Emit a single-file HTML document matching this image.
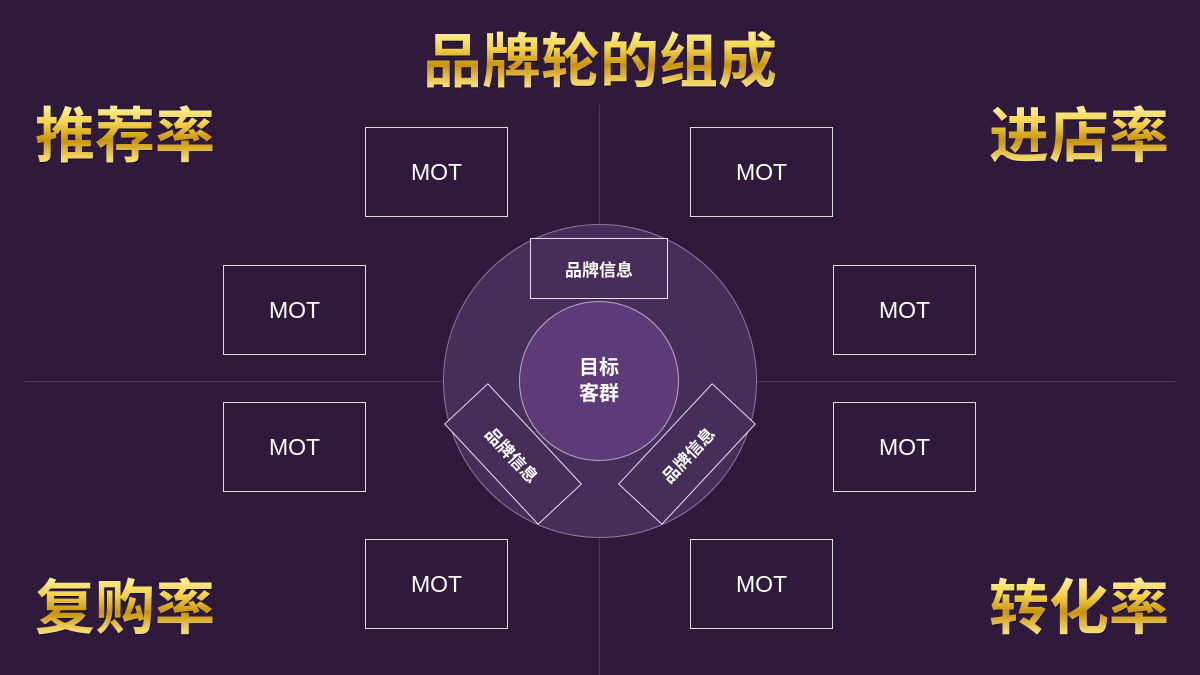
<!DOCTYPE html>
<html><head><meta charset="utf-8"><style>
*{margin:0;padding:0;box-sizing:border-box}
body{width:1200px;height:675px;background:#2f1a3c;position:relative;overflow:hidden;font-family:"Liberation Sans","Noto Sans CJK SC",sans-serif}
.g{position:absolute;font-weight:bold;white-space:nowrap;background:linear-gradient(180deg,#fff6b0 0%,#f3d34a 30%,#c9930f 55%,#f2d56a 80%,#fff3b8 100%);-webkit-background-clip:text;background-clip:text;color:transparent;filter:drop-shadow(1px 1px 0 #1a0d22)}
.m{position:absolute;width:143px;height:90px;border:1.5px solid #ddd;color:#fff;font-size:23px;display:flex;align-items:center;justify-content:center}
.ln{position:absolute;background:#4b3659}
.b{position:absolute;border:1.5px solid #e6e0ea;background:#472d59;color:#fff;font-weight:bold;font-size:17px;display:flex;align-items:center;justify-content:center}
</style></head><body>
<div class="ln" style="left:599px;top:105px;width:1px;height:570px"></div>
<div class="ln" style="left:25px;top:381px;width:1150px;height:1px"></div>
<div class="g" style="left:0;width:1200px;text-align:center;top:27px;font-size:59px;line-height:70px">品牌轮的组成</div>
<div class="g" style="left:35px;top:102px;font-size:60px;line-height:70px">推荐率</div>
<div class="g" style="left:989px;top:102px;font-size:60px;line-height:70px">进店率</div>
<div class="g" style="left:35px;top:574px;font-size:60px;line-height:70px">复购率</div>
<div class="g" style="left:989px;top:574px;font-size:60px;line-height:70px">转化率</div>
<div class="m" style="left:365px;top:127px">MOT</div>
<div class="m" style="left:690px;top:127px">MOT</div>
<div class="m" style="left:223px;top:265px">MOT</div>
<div class="m" style="left:833px;top:265px">MOT</div>
<div class="m" style="left:223px;top:402px">MOT</div>
<div class="m" style="left:833px;top:402px">MOT</div>
<div class="m" style="left:365px;top:539px">MOT</div>
<div class="m" style="left:690px;top:539px">MOT</div>
<div style="position:absolute;left:443px;top:224px;width:314px;height:314px;border-radius:50%;background:#472d59;border:1.5px solid #8a7898"></div>
<div class="b" style="left:530px;top:238px;width:138px;height:61px">品牌信息</div>
<div style="position:absolute;left:519px;top:301px;width:160px;height:160px;border-radius:50%;background:#5f3a78;border:1.5px solid #b8a8c6;color:#fff;font-weight:bold;font-size:20px;line-height:26px;display:flex;align-items:center;justify-content:center;text-align:center">目标<br>客群</div>
<div class="b" style="left:444px;top:424px;width:138px;height:60px;transform:rotate(47deg)">品牌信息</div>
<div class="b" style="left:618px;top:424px;width:138px;height:60px;transform:rotate(-47deg)">品牌信息</div>
</body></html>
